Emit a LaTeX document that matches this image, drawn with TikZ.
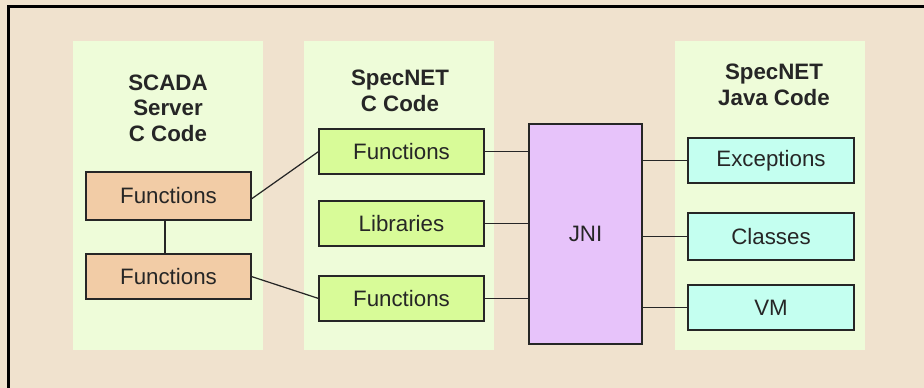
\documentclass[tikz,border=0pt]{standalone}
\usepackage{fontspec}
\setmainfont{Liberation Sans}
\definecolor{bgbeige}{HTML}{F0E2CE}
\definecolor{panelgreen}{HTML}{EEFCD9}
\definecolor{boxorange}{HTML}{F2CCA6}
\definecolor{boxgreen}{HTML}{D8FB98}
\definecolor{boxpurple}{HTML}{E7C3FA}
\definecolor{boxcyan}{HTML}{C4FFF0}
\tikzset{
  panel/.style={fill=panelgreen, draw=none},
  heading/.style={font=\fontsize{12.7}{14.6}\selectfont\bfseries, align=center, text=black!85},
  boxbase/.style={draw=black!85, line width=0.8pt, font=\fontsize{12.7}{14.6}\selectfont, text=black!85},
  link/.style={draw=black!85, line width=0.7pt},
}
\begin{document}
\begin{tikzpicture}[x=0.02cm, y=-0.02cm]
\useasboundingbox (0,0) rectangle (924,388);
\fill[bgbeige] (0,0) rectangle (924,388);
\draw[line width=1.8pt, black] (8.5,388) -- (8.5,6.5) -- (924,6.5);
% panels
\fill[panel] (73,41) rectangle (263,350);
\fill[panel] (304,41) rectangle (494,350);
\fill[panel] (675,41) rectangle (865,350);
% headings
\node[heading] (h1) at (168,108) {SCADA\\Server\\C Code};
\node[heading] (h2) at (400,91) {SpecNET\\C Code};
\node[heading] (h3) at (774,85) {SpecNET\\Java Code};
% boxes
\path[boxbase, fill=boxorange] (86,172) rectangle (251,220);
\node[boxbase, draw=none, inner sep=0pt, minimum width=165*0.567pt, minimum height=48*0.567pt] (f1) at (168.5,196) {Functions};
\path[boxbase, fill=boxorange] (86,254) rectangle (251,299);
\node[boxbase, draw=none, inner sep=0pt, minimum width=165*0.567pt, minimum height=45*0.567pt] (f2) at (168.5,276.5) {Functions};
\path[boxbase, fill=boxgreen] (319,129) rectangle (484,174);
\node[boxbase, draw=none, inner sep=0pt, minimum width=165*0.567pt, minimum height=45*0.567pt] (sf1) at (401.5,151.5) {Functions};
\path[boxbase, fill=boxgreen] (319,201) rectangle (484,246);
\node[boxbase, draw=none, inner sep=0pt, minimum width=165*0.567pt, minimum height=45*0.567pt] (lib) at (401.5,223.5) {Libraries};
\path[boxbase, fill=boxgreen] (319,276) rectangle (484,321);
\node[boxbase, draw=none, inner sep=0pt, minimum width=165*0.567pt, minimum height=45*0.567pt] (sf2) at (401.5,298.5) {Functions};
\path[boxbase, fill=boxpurple] (529,124) rectangle (642,344);
\node[boxbase, draw=none, inner sep=0pt, minimum width=113*0.567pt, minimum height=220*0.567pt] (jni) at (585.5,234) {JNI};
\path[boxbase, fill=boxcyan] (688,138) rectangle (854,183);
\node[boxbase, draw=none, inner sep=0pt, minimum width=166*0.567pt, minimum height=45*0.567pt] (exc) at (771,160.5) {Exceptions};
\path[boxbase, fill=boxcyan] (688,213) rectangle (854,260);
\node[boxbase, draw=none, inner sep=0pt, minimum width=166*0.567pt, minimum height=47*0.567pt] (cls) at (771,236.5) {Classes};
\path[boxbase, fill=boxcyan] (688,285) rectangle (854,330);
\node[boxbase, draw=none, inner sep=0pt, minimum width=166*0.567pt, minimum height=45*0.567pt] (vm) at (771,307.5) {VM};
% connectors
\draw[link] (f1.south -| 165,0) -- (f2.north -| 165,0);
\draw[link] ([yshift=-3*0.567pt]f1.east) -- (sf1.west);
\draw[link] (f2.east) -- (sf2.west);
\draw[link] (sf1.east) -- (sf1.east -| jni.west);
\draw[link] (lib.east) -- (lib.east -| jni.west);
\draw[link] (sf2.east) -- (sf2.east -| jni.west);
\draw[link] (exc.west -| jni.east) -- (exc.west);
\draw[link] (cls.west -| jni.east) -- (cls.west);
\draw[link] (vm.west -| jni.east) -- (vm.west);
\end{tikzpicture}
\end{document}
